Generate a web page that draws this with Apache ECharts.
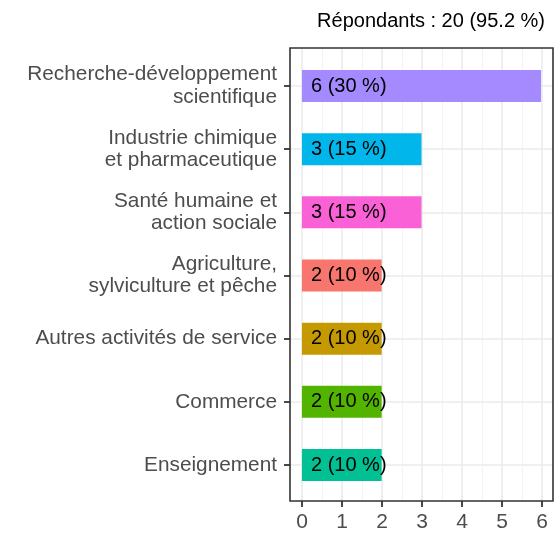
<!DOCTYPE html>
<html>
<head>
<meta charset="utf-8">
<script src="https://cdn.jsdelivr.net/npm/echarts@6/dist/echarts.min.js"></script>
<style>html,body{margin:0;padding:0;background:#fff}#c{width:555px;height:533px}</style>
</head>
<body>
<div id="c"></div>
<script>
// Data
const categories = [
  'Recherche-développement\nscientifique',
  'Industrie chimique\net pharmaceutique',
  'Santé humaine et\naction sociale',
  'Agriculture,\nsylviculture et pêche',
  'Autres activités de service',
  'Commerce',
  'Enseignement'
];
const counts = [6, 3, 3, 2, 2, 2, 2];
const totalRespondents = 20;
const respondentShare = 95.2;
const xTicks = [0, 1, 2, 3, 4, 5, 6];
const palette = ['#A58AFF', '#00B6EB', '#FB61D7', '#F8766D', '#C49A00', '#53B400', '#00C094'];

const FONT = 'Liberation Sans, Arial, sans-serif';
const chart = echarts.init(document.getElementById('c'), null, {renderer: 'canvas'});

chart.setOption({
  animation: false,
  backgroundColor: '#fff',
  title: {
    text: 'Répondants : ' + totalRespondents + ' (' + respondentShare + ' %)',
    right: 5, top: 6,
    textStyle: {fontFamily: FONT, fontSize: 20, fontWeight: 'normal', color: '#000'}
  },
  grid: [
    // frame
    {left: 290, right: 2, top: 48, bottom: 32, show: true, borderColor: '#333333', borderWidth: 1.6, backgroundColor: 'transparent', z: 3},
    // x axis scale 0..6
    {left: 302, right: 13, top: 48, bottom: 32},
    // bars
    {left: 290, right: 2, top: 86, bottom: 68}
  ],
  xAxis: [
    {gridIndex: 0, type: 'value', show: false, min: 0, max: 1},
    {gridIndex: 1, type: 'value', min: xTicks[0], max: xTicks[xTicks.length - 1], interval: 1,
      axisLine: {show: false, onZero: false},
      axisTick: {show: true, length: 6, lineStyle: {color: '#333333', width: 1.8}},
      axisLabel: {color: '#4D4D4D', fontFamily: FONT, fontSize: 21, margin: 11},
      splitLine: {show: true, lineStyle: {color: '#EBEBEB', width: 1.6}},
      minorTick: {show: false, splitNumber: 2},
      minorSplitLine: {show: true, lineStyle: {color: '#F0F0F0', width: 0.8}}
    },
    {gridIndex: 2, type: 'value', show: false, min: -0.3, max: 6.3}
  ],
  yAxis: [
    {gridIndex: 0, type: 'value', show: false},
    {gridIndex: 1, type: 'value', show: false, min: 0, max: 1},
    {gridIndex: 2, type: 'category', data: categories, inverse: true, boundaryGap: false,
      axisLine: {show: false, onZero: false},
      axisTick: {show: true, length: 6, interval: 0, lineStyle: {color: '#333333', width: 1.8}},
      axisLabel: {color: '#4D4D4D', fontFamily: FONT, fontSize: 20.8, lineHeight: 22.5, margin: 13, interval: 0, align: 'right'},
      splitLine: {show: true, interval: 0, lineStyle: {color: '#EBEBEB', width: 1.6}}
    }
  ],
  series: [{
    type: 'bar',
    xAxisIndex: 2, yAxisIndex: 2,
    clip: false,
    barWidth: 32,
    data: counts.map((v, i) => ({value: v, itemStyle: {color: palette[i]}})),
    label: {
      show: true, position: 'insideLeft', distance: 9,
      color: '#000', fontFamily: FONT, fontSize: 20,
      formatter: p => p.value + ' (' + Math.round(p.value / totalRespondents * 100) + ' %)'
    }
  }]
});
</script>
</body>
</html>
